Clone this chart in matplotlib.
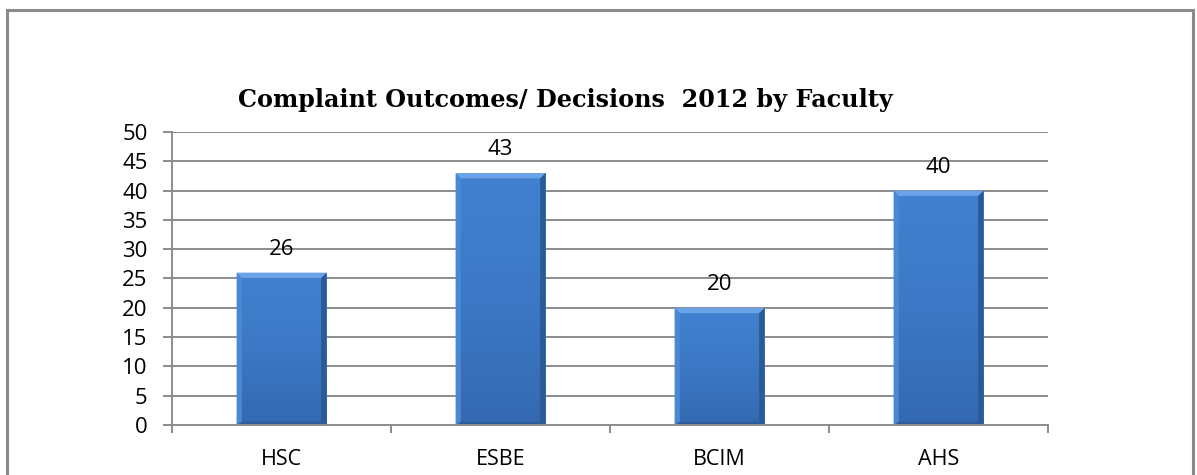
import numpy as np
import matplotlib.pyplot as plt
from matplotlib.patches import Rectangle, Polygon
from matplotlib.colors import LinearSegmentedColormap

# data
faculties = ['HSC', 'ESBE', 'BCIM', 'AHS']
decisions = [26, 43, 20, 40]
y_ticks = list(range(0, 55, 5))

plt.rcParams['font.family'] = ['Open Sans', 'DejaVu Sans']

fig = plt.figure(figsize=(11.97, 4.75), dpi=100)
ax = fig.add_axes([0.1437, 0.1053, 0.7318, 0.6168])

# outer frame round the chart
fig.patches.append(Rectangle((0.0058, -0.02), 0.9905, 0.999, transform=fig.transFigure,
                             fill=False, edgecolor='#8a8a8a', linewidth=2.2))

x = np.arange(len(faculties))
bar_w = 0.41
bars = ax.bar(x, decisions, width=bar_w, color='#3e7bc8', edgecolor='none',
              linewidth=0, zorder=2)

# bevelled look, like the office chart style
cmap = LinearSegmentedColormap.from_list('barblue', ['#3469b0', '#3c78c5', '#4281d0'])
grad = np.linspace(0, 1, 256).reshape(-1, 1)
bx, by = 0.024, 0.9   # bevel size in data units
for b in bars:
    x0, w, h = b.get_x(), b.get_width(), b.get_height()
    x1 = x0 + w
    im = ax.imshow(grad, extent=[x0, x1, 0, h], origin='lower', cmap=cmap,
                   aspect='auto', zorder=2.1)
    im.set_clip_path(b)
    # top bevel
    ax.add_patch(Polygon([(x0, h), (x1, h), (x1 - bx, h - by), (x0 + bx, h - by)],
                         closed=True, color='#6aa3e8', zorder=2.3, linewidth=0))
    # right side, darker
    ax.add_patch(Polygon([(x1, h), (x1, 0), (x1 - bx, by * 0.6), (x1 - bx, h - by)],
                         closed=True, color='#2b5a98', zorder=2.2, linewidth=0))
    # left side, a touch lighter
    ax.add_patch(Polygon([(x0, h), (x0, 0), (x0 + bx, by * 0.6), (x0 + bx, h - by)],
                         closed=True, color='#4a88d4', zorder=2.2, linewidth=0))
    # bottom edge
    ax.add_patch(Polygon([(x0, 0), (x1, 0), (x1 - bx, by * 0.6), (x0 + bx, by * 0.6)],
                         closed=True, color='#2c5c9c', zorder=2.2, linewidth=0))
    ax.text(x0 + w / 2, h + 2.2, str(int(h)), ha='center', va='bottom',
            fontsize=16, color='black')

ax.set_xlim(-0.5, len(faculties) - 0.5)
ax.set_ylim(0, 50)
ax.set_yticks(y_ticks)
ax.set_xticks(x)
ax.set_xticklabels(faculties)
ax.set_xticks(np.arange(len(faculties) + 1) - 0.5, minor=True)

ax.grid(axis='y', color='#8c8c8c', linewidth=1.4, zorder=1)
ax.set_axisbelow(True)
for side in ['top', 'right']:
    ax.spines[side].set_visible(False)
for side in ['left', 'bottom']:
    ax.spines[side].set_color('#8c8c8c')
    ax.spines[side].set_linewidth(1.4)

ax.tick_params(axis='y', length=6.5, width=1.4, color='#8c8c8c', labelsize=16, pad=11)
ax.tick_params(axis='x', which='major', length=0, labelsize=15.5, pad=17)
ax.tick_params(axis='x', which='minor', length=6, width=1.4, color='#8c8c8c')

fig.text(0.472, 1 - 107 / 475, 'Complaint Outcomes/ Decisions  2012 by Faculty', ha='center',
         va='baseline', fontsize=17.2, fontweight='bold', family=['DejaVu Serif'])

fig.savefig('out.png', dpi=100)
